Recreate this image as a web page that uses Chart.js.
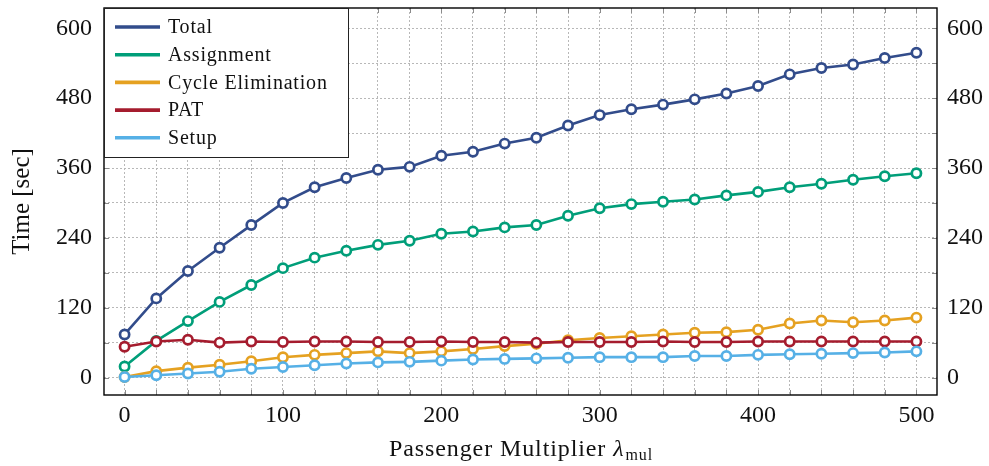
<!DOCTYPE html>
<html>
<head>
<meta charset="utf-8">
<script src="https://cdn.jsdelivr.net/npm/chart.js@4"></script>
<style>
  html, body { margin: 0; padding: 0; background: #fff; }
  #wrap { width: 989px; height: 466px; }
</style>
</head>
<body>
<div id="wrap"><canvas id="myChart" width="989" height="466"></canvas></div>
<script>
// passenger multiplier values
const multipliers = [0,20,40,60,80,100,120,140,160,180,200,220,240,260,280,300,320,340,360,380,400,420,440,460,480,500];

// times in seconds
const totalTime      = [74,136,183,223,262,300,327,343,357,362,381,388,402,412,433,451,461,469,478,488,501,521,532,538,549,558];
const assignmentTime = [19,63,97,130,159,188,206,218,228,235,247,251,258,262,278,291,298,302,306,313,319,327,333,340,346,351];
const cycleTime      = [1,11,17,22,28,35,39,42,45,42,45,49,54,58,64,68,71,74,77,78,82,93,98,95,98,103];
const patTime        = [53,62,65,60,62,61,62,62,61,61,62,61,61,60,61,61,61,62,61,61,62,62,62,62,62,62];
const setupTime      = [1,4,7,10,15,18,21,24,26,27,29,31,32,33,34,35,35,35,37,37,39,40,41,42,43,45];

const seriesNames = ["Total","Assignment","Cycle Elimination","PAT","Setup"];
const seriesColors = ["#324c8b","#009e79","#e5a121","#a51c2e","#56b0e6"];
const seriesData = [totalTime, assignmentTime, cycleTime, patTime, setupTime];

const yTicks = [0,60,120,180,240,300,360,420,480,540,600];
const xTicks = [];
for (let i = 0; i <= 25; i++) xTicks.push(i * 20);

const serif = "'Liberation Serif', 'DejaVu Serif', serif";

const datasets = seriesNames.map((name, k) => ({
  label: name,
  data: multipliers.map((x, i) => ({ x: x, y: seriesData[k][i] })),
  borderColor: seriesColors[k],
  backgroundColor: '#ffffff',
  pointBorderColor: seriesColors[k],
  pointBackgroundColor: '#ffffff',
  pointRadius: 4.6,
  pointBorderWidth: 2.7,
  borderWidth: 2.6,
  order: 5 - k,
  yAxisID: 'y'
}));

const noPad = (axis) => {
  axis.paddingTop = 0; axis.paddingBottom = 0;
  axis.paddingLeft = 0; axis.paddingRight = 0;
};

// frame, inner tick marks, legend and x title
const extras = {
  id: 'extras',
  afterDraw(chart) {
    const ctx = chart.ctx;
    const a = chart.chartArea;
    const sx = chart.scales.x, sy = chart.scales.y;
    ctx.save();

    // small inner tick marks
    ctx.strokeStyle = '#8a8a8a';
    ctx.lineWidth = 1;
    ctx.beginPath();
    xTicks.forEach(v => {
      const px = Math.round(sx.getPixelForValue(v)) + 0.5;
      ctx.moveTo(px, a.bottom); ctx.lineTo(px, a.bottom - 5);
      ctx.moveTo(px, a.top); ctx.lineTo(px, a.top + 5);
    });
    yTicks.forEach(v => {
      const py = Math.round(sy.getPixelForValue(v)) + 0.5;
      ctx.moveTo(a.left, py); ctx.lineTo(a.left + 5, py);
      ctx.moveTo(a.right, py); ctx.lineTo(a.right - 5, py);
    });
    ctx.stroke();

    ctx.strokeStyle = '#000';
    ctx.lineWidth = 1.4;
    ctx.strokeRect(a.left, a.top, a.right - a.left, a.bottom - a.top);

    // legend box
    const bx = a.left, by = a.top, bw = 244, bh = 149;
    ctx.fillStyle = '#fff';
    ctx.fillRect(bx, by, bw, bh);
    ctx.lineWidth = 1;
    ctx.strokeStyle = '#222';
    ctx.strokeRect(bx + 0.5, by + 0.5, bw, bh);
    ctx.font = '20px ' + serif;
    ctx.letterSpacing = '0.8px';
    ctx.textBaseline = 'middle';
    for (let k = 0; k < seriesNames.length; k++) {
      const yy = by + 19 + k * 27.7;
      ctx.strokeStyle = seriesColors[k];
      ctx.lineWidth = 3.6;
      ctx.beginPath();
      ctx.moveTo(bx + 11, yy);
      ctx.lineTo(bx + 56, yy);
      ctx.stroke();
      ctx.fillStyle = '#111';
      ctx.fillText(seriesNames[k], bx + 64, yy + 1);
    }

    // x axis title with subscript
    ctx.fillStyle = '#111';
    ctx.textBaseline = 'alphabetic';
    ctx.letterSpacing = '0.9px';
    ctx.font = '24px ' + serif;
    const main = 'Passenger Multiplier ';
    const w1 = ctx.measureText(main).width;
    ctx.font = 'italic 24px ' + serif;
    const w2 = ctx.measureText('λ').width;
    ctx.font = '16px ' + serif;
    const w3 = ctx.measureText('mul').width;
    const cx = (a.left + a.right) / 2;
    const x0 = cx - (w1 + w2 + w3) / 2;
    const base = 456;
    ctx.font = '24px ' + serif;
    ctx.fillText(main, x0, base);
    ctx.font = 'italic 24px ' + serif;
    ctx.fillText('λ', x0 + w1, base);
    ctx.font = '16px ' + serif;
    ctx.fillText('mul', x0 + w1 + w2 + 1, base + 4);
    ctx.restore();
  }
};

const config = {
  type: 'line',
  data: { datasets: datasets },
  options: {
    responsive: false,
    animation: false,
    layout: { padding: { top: 8, left: 0, right: 0, bottom: 0 } },
    plugins: { legend: { display: false }, tooltip: { enabled: false } },
    scales: {
      x: {
        type: 'linear',
        min: -13,
        max: 513,
        afterBuildTicks: (axis) => { axis.ticks = xTicks.map(v => ({ value: v })); },
        afterFit: (axis) => { axis.height = 71; noPad(axis); },
        grid: { color: '#b8b8b8', drawTicks: false, lineWidth: 1 },
        border: { display: false, dash: [2, 2] },
        ticks: {
          padding: 6,
          maxRotation: 0,
          autoSkip: false,
          color: '#111',
          font: { family: serif, size: 24 },
          callback: (v) => (v % 100 === 0 ? v : '')
        }
      },
      y: {
        position: 'left',
        min: -30,
        max: 635,
        afterBuildTicks: (axis) => { axis.ticks = yTicks.map(v => ({ value: v })); },
        afterFit: (axis) => { axis.width = 104; noPad(axis); },
        grid: { color: '#b8b8b8', drawTicks: false, lineWidth: 1 },
        border: { display: false, dash: [2, 2] },
        title: {
          display: true,
          text: 'Time [sec]',
          color: '#111',
          font: { family: serif, size: 25 },
          padding: { top: 7, bottom: 0 }
        },
        ticks: {
          padding: 12,
          color: '#111',
          font: { family: serif, size: 24 },
          callback: (v) => (v % 120 === 0 ? v : '')
        }
      },
      y2: {
        position: 'right',
        min: -30,
        max: 635,
        afterBuildTicks: (axis) => { axis.ticks = yTicks.map(v => ({ value: v })); },
        afterFit: (axis) => { axis.width = 52; noPad(axis); },
        grid: { display: false, drawTicks: false },
        border: { display: false },
        ticks: {
          padding: 10,
          color: '#111',
          font: { family: serif, size: 24 },
          callback: (v) => (v % 120 === 0 ? v : '')
        }
      }
    }
  },
  plugins: [extras]
};

const myChart = new Chart(document.getElementById('myChart'), config);
</script>
</body>
</html>
